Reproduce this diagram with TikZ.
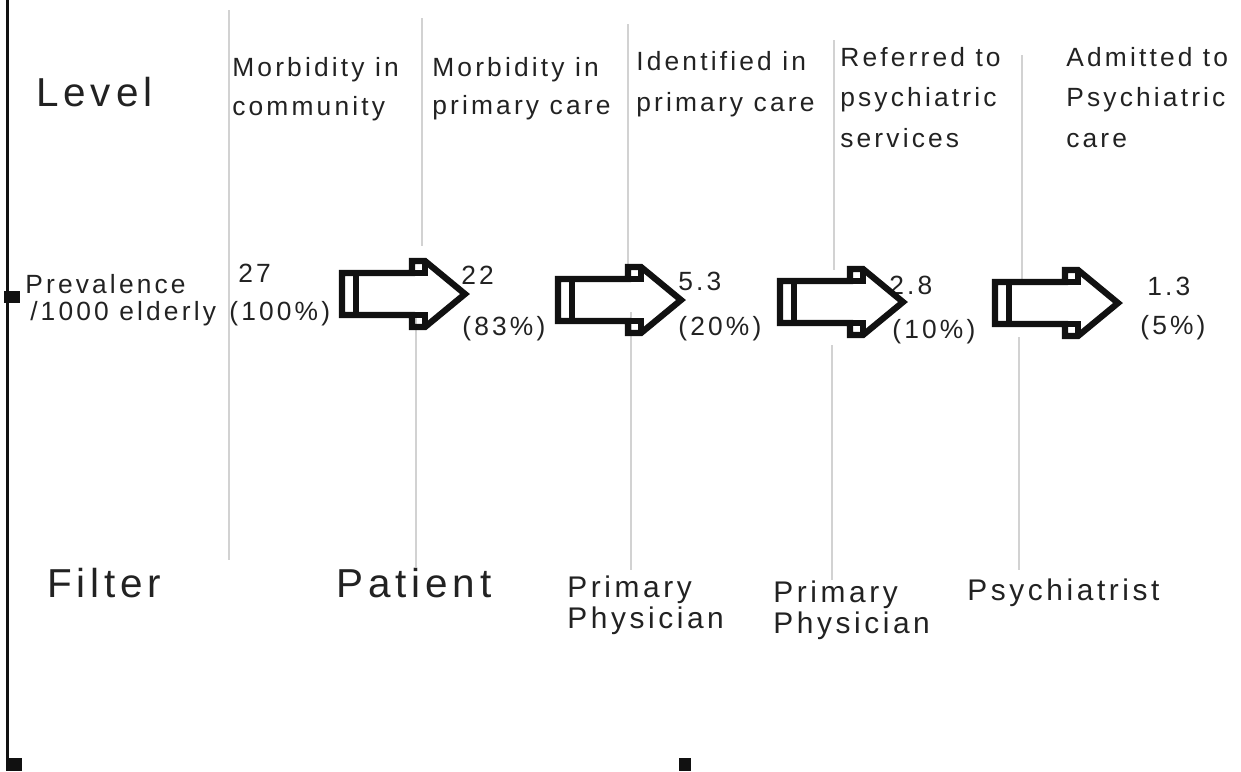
\documentclass[tikz,border=0pt]{standalone}
\usepackage{fontspec}
\setmainfont{Liberation Sans}
\newfontfamily\trackfont[LetterSpace=12]{Liberation Sans}
\definecolor{lvText}{HTML}{222222}
\definecolor{lvRule}{HTML}{D2D2D2}
\definecolor{lvInk}{HTML}{111111}
\tikzset{
  lvsmall/.style={anchor=base west, inner sep=0pt, align=left, text=lvText,
    font=\trackfont\fontsize{15}{17.1}\selectfont},
  lvbig/.style={anchor=base west, inner sep=0pt, text=lvText,
    font=\trackfont\fontsize{23}{27}\selectfont},
  lvfilter/.style={anchor=base west, inner sep=0pt, align=left, text=lvText,
    font=\trackfont\fontsize{17}{17.6}\selectfont},
  divider/.style={draw=lvRule, line width=0.3mm},
  pics/fatarrow/.style={code={
    \draw[lvInk, line width=1.25mm, line join=miter]
      (0,-21) -- (70,-21) -- (70,-33) -- (83,-33) -- (123,0) -- (83,33)
      -- (70,33) -- (70,21) -- (0,21) -- cycle;
    \draw[lvInk, line width=1.25mm]
      (14,-21) -- (14,21) (70,-21) -| (83,-33) (70,21) -| (83,33);
  }}
}
\begin{document}
\begin{tikzpicture}[x=0.2mm, y=-0.2mm]
  \useasboundingbox (0,0) rectangle (1241,771);
  % frame marks on the left
  \draw[lvInk, line width=0.6mm] (7,0) -- (7,771);
  \fill[lvInk] (4,291) rectangle (20,303);
  \fill[lvInk] (6,758) rectangle (22,771);
  \fill[lvInk] (679,758) rectangle (691,771);

  % column dividers
  \draw[divider] (229,10) -- (229,560);
  \draw[divider] (422,18) -- (422,246);
  \draw[divider] (416,312) -- (416,567);
  \draw[divider] (628,24) -- (628,264);
  \draw[divider] (631,312) -- (631,570);
  \draw[divider] (834,40) -- (834,270);
  \draw[divider] (832,345) -- (832,580);
  \draw[divider] (1022,55) -- (1022,280);
  \draw[divider] (1019,337) -- (1019,570);

  % row titles (multi-line nodes sit on their last baseline)
  \node[lvbig] (level) at (36,106) {Level};
  \node[lvbig] (filter) at (47,597) {Filter};
  \node[lvsmall] (prev) at (25,320) {Prevalence\\[-2pt]\hspace*{2.8pt}/1000 elderly};

  % levels
  \node[lvsmall] (lvl1) at (232,115) {Morbidity in\\[4.6pt]community};
  \node[lvsmall] (lvl2) at (432,114) {Morbidity in\\[4pt]primary care};
  \node[lvsmall] (lvl3) at (636,111) {Identified in\\[5.7pt]primary care};
  \node[lvsmall] (lvl4) at (840,147) {Referred to\\[5.7pt]psychiatric\\[5.7pt]services};
  \node[lvsmall] (lvl5) at (1066,147) {Admitted to\\[5.7pt]Psychiatric\\[5.7pt]care};

  % prevalence values
  \node[lvsmall] (val1) at (238,282) {27};
  \node[lvsmall] (pct1) at (229,320) {(100\%)};
  \node[lvsmall] (val2) at (461,284) {22};
  \node[lvsmall] (pct2) at (462,335) {(83\%)};
  \node[lvsmall] (val3) at (678,290) {5.3};
  \node[lvsmall] (pct3) at (678,335) {(20\%)};
  \node[lvsmall] (val4) at (889,294) {2.8};
  \node[lvsmall] (pct4) at (892,338) {(10\%)};
  \node[lvsmall] (val5) at (1147,295) {1.3};
  \node[lvsmall] (pct5) at (1140,334) {(5\%)};

  % filter arrows
  \pic at (342,294) {fatarrow};
  \pic at (558,300) {fatarrow};
  \pic at (780,302) {fatarrow};
  \pic at (995,303) {fatarrow};

  % filters
  \node[lvbig] (patient) at (336,597) {Patient};
  \node[lvfilter] (phys1) at (567,628) {Primary\\Physician};
  \node[lvfilter] (phys2) at (773,633) {Primary\\Physician};
  \node[lvfilter] (psych) at (967,600) {Psychiatrist};
\end{tikzpicture}
\end{document}
